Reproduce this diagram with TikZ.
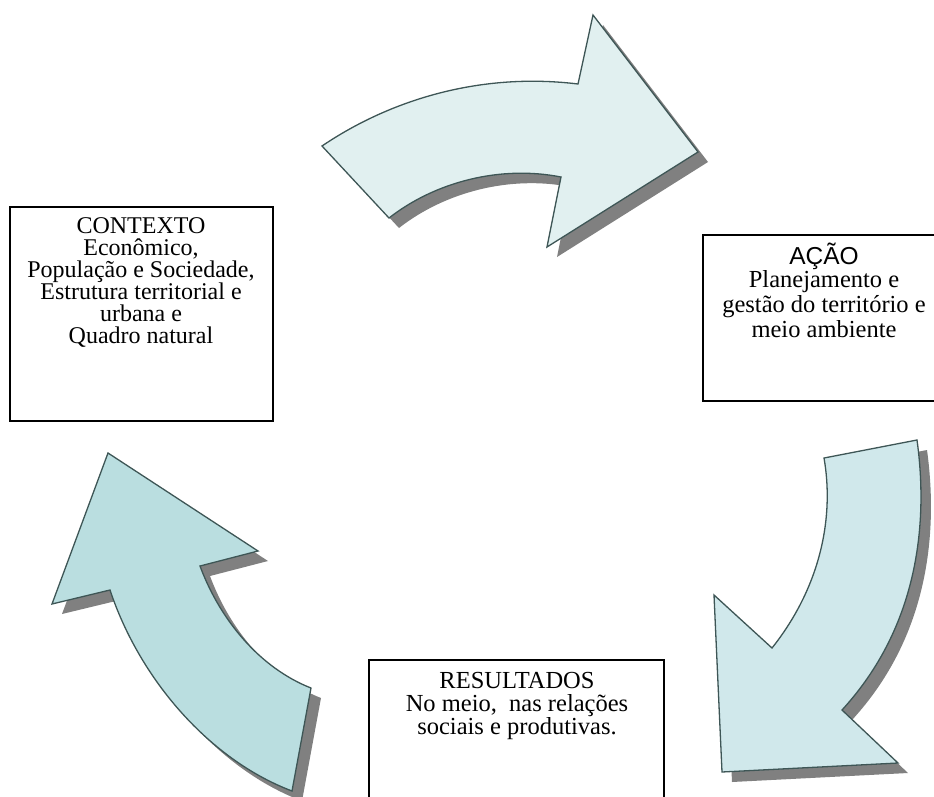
\documentclass[tikz,border=0pt]{standalone}
\usepackage{fontspec}
\setmainfont{Liberation Serif}
\newfontfamily\acaofont{Liberation Sans}
\usetikzlibrary{shadows}
\definecolor{arrowline}{HTML}{3E5656}
\definecolor{shadowgray}{HTML}{808080}
\definecolor{fillone}{HTML}{E1F0F0}
\definecolor{filltwo}{HTML}{D0E8EB}
\definecolor{fillthree}{HTML}{BADEE0}
\begin{document}
\begin{tikzpicture}[x=1pt,y=-1pt,
    box/.style={draw, fill=white, line width=1.4pt, inner sep=0pt},
    boxtext/.style={align=center, anchor=north, inner sep=0pt},
    bigarrow/.style={draw=arrowline, line width=1.3pt,
      drop shadow={shadow xshift=10pt, shadow yshift=-10pt, opacity=1, fill=shadowgray}}]
  \useasboundingbox (0,0) rectangle (934,796);
  \clip (0,0) rectangle (934,796);
  \path[bigarrow, fill=fillone] (322,146) .. controls (390,100) and (480,72) .. (578,84)
    -- (593,15) -- (698,152) -- (547,247) -- (561,177)
    .. controls (500,165) and (435,182) .. (389,218) -- cycle;
  \path[bigarrow, fill=filltwo] (824,458) -- (917,440)
    .. controls (928,520) and (920,625) .. (842,710)
    -- (898,763) -- (722,772) -- (714,595) -- (772,648)
    .. controls (822,585) and (834,515) .. (824,458) -- cycle;
  \path[bigarrow, fill=fillthree] (108,453) -- (258,551) -- (200,566)
    .. controls (220,620) and (260,668) .. (311,688) -- (292,791)
    .. controls (210,760) and (140,680) .. (110,590) -- (52,604) -- cycle;
  \node[box, minimum width=263pt, minimum height=214pt] (contexto) at (141.5,314) {};
  \node[box, minimum width=242pt, minimum height=166pt] (acao) at (824,318) {};
  \node[box, minimum width=295pt, minimum height=200pt] (resultados) at (516.5,760) {};
  \node[boxtext, font={\fontsize{24}{22}\selectfont\lineskiplimit=-8pt}] (contextotxt) at (141,217.8)
    {CONTEXTO\\Econômico,\\População e Sociedade,\\Estrutura territorial e\\urbana e\\Quadro natural};
  \node[boxtext, font={\fontsize{24.5}{25}\selectfont\lineskiplimit=-8pt}] (acaotxt) at (824,243)
    {{\acaofont AÇÃO}\\[-2.6pt]Planejamento e\\gestão do território e\\meio ambiente};
  \node[boxtext, font={\fontsize{24.5}{23.3}\selectfont\lineskiplimit=-8pt}] (resultadostxt) at (517,671.7)
    {RESULTADOS\\No meio,~ nas relações\\sociais e produtivas.};
\end{tikzpicture}
\end{document}
